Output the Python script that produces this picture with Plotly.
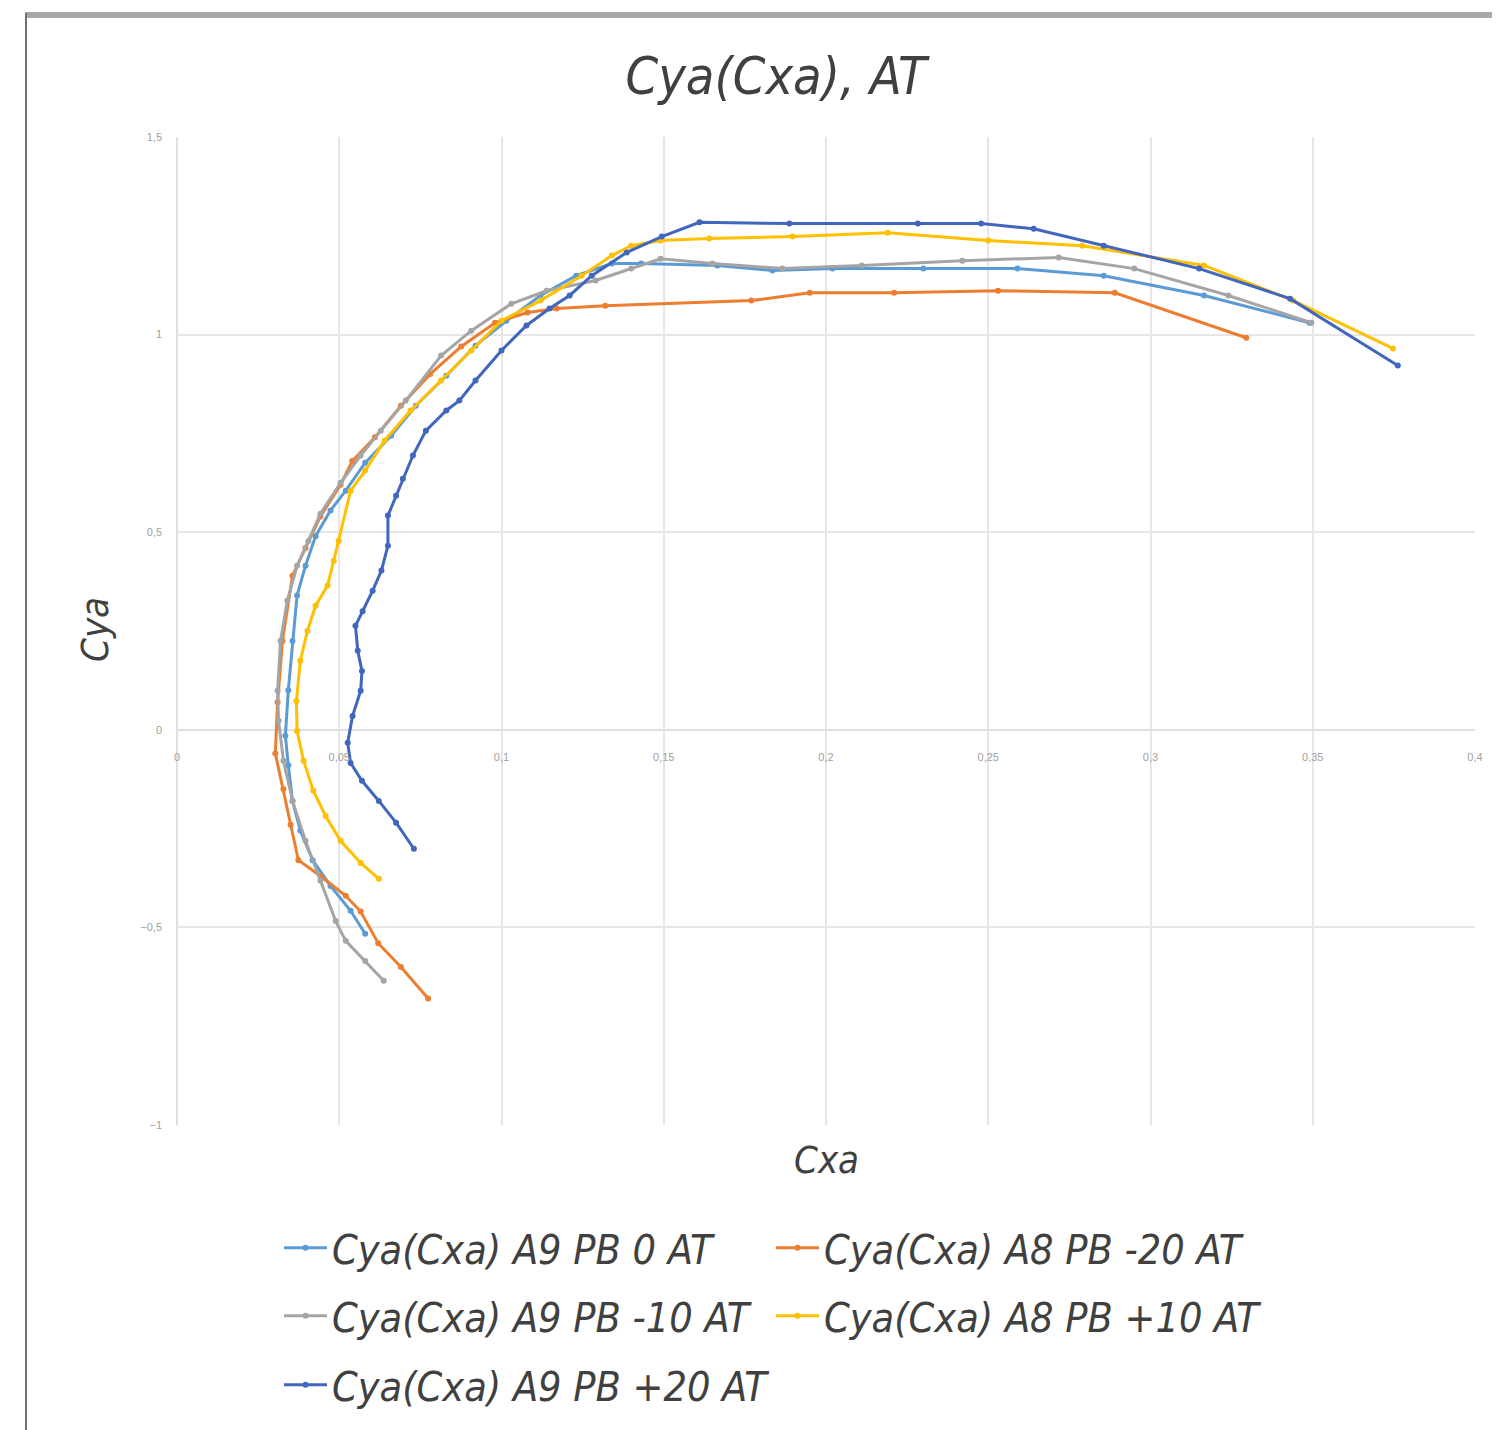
import plotly.graph_objects as go

# ---------------- data ----------------
series_names = [
    "Cya(Cxa) A9 PB 0 AT",
    "Cya(Cxa) A8 PB -20 AT",
    "Cya(Cxa) A9 PB -10 AT",
    "Cya(Cxa) A8 PB +10 AT",
    "Cya(Cxa) A9 PB +20 AT",
]

cxa_pb0 = [0.0580, 0.0535, 0.0473, 0.0418, 0.0380, 0.0356, 0.0343, 0.0334, 0.0343, 0.0356,
           0.0370, 0.0396, 0.0427, 0.0473, 0.0520, 0.0580, 0.0660, 0.0736, 0.0830, 0.0920,
           0.1015, 0.1120, 0.1230, 0.1340, 0.1430, 0.1665, 0.1835, 0.2020, 0.2300, 0.2590,
           0.2856, 0.3165, 0.3490]
cya_pb0 = [-0.516, -0.458, -0.395, -0.330, -0.255, -0.180, -0.090, -0.015, 0.100, 0.225,
           0.340, 0.415, 0.490, 0.555, 0.605, 0.676, 0.744, 0.820, 0.896, 0.972,
           1.035, 1.099, 1.149, 1.180, 1.180, 1.175, 1.162, 1.167, 1.167, 1.167,
           1.149, 1.099, 1.030]

cxa_pbm20 = [0.0774, 0.0690, 0.0620, 0.0566, 0.0520, 0.0442, 0.0374, 0.0350, 0.0328, 0.0303,
             0.0310, 0.0325, 0.0356, 0.0396, 0.0442, 0.0504, 0.0540, 0.0610, 0.0690, 0.0780,
             0.0876, 0.0980, 0.1080, 0.1170, 0.1320, 0.1770, 0.1950, 0.2210, 0.2530, 0.2890,
             0.3295]
cya_pbm20 = [-0.680, -0.600, -0.540, -0.460, -0.420, -0.370, -0.330, -0.240, -0.150, -0.060,
             0.070, 0.225, 0.390, 0.460, 0.540, 0.620, 0.680, 0.740, 0.820, 0.900,
             0.970, 1.030, 1.056, 1.066, 1.073, 1.086, 1.106, 1.106, 1.111, 1.106,
             0.992]

cxa_pbm10 = [0.0637, 0.0580, 0.0520, 0.0489, 0.0442, 0.0396, 0.0356, 0.0328, 0.0313, 0.0310,
             0.0319, 0.0340, 0.0370, 0.0405, 0.0442, 0.0504, 0.0566, 0.0628, 0.0705, 0.0814,
             0.0907, 0.1030, 0.1139, 0.1290, 0.1400, 0.1490, 0.1650, 0.1866, 0.2110, 0.2420,
             0.2717, 0.2950, 0.3240, 0.3496]
cya_pbm10 = [-0.635, -0.585, -0.534, -0.484, -0.382, -0.281, -0.180, -0.078, 0.023, 0.099,
             0.225, 0.327, 0.415, 0.478, 0.547, 0.625, 0.694, 0.757, 0.833, 0.947,
             1.010, 1.078, 1.111, 1.137, 1.167, 1.192, 1.180, 1.167, 1.175, 1.187,
             1.195, 1.167, 1.099, 1.030]

cxa_pbp10 = [0.0622, 0.0566, 0.0504, 0.0458, 0.0420, 0.0390, 0.0370, 0.0368, 0.0380, 0.0402,
             0.0427, 0.0464, 0.0483, 0.0498, 0.0535, 0.0580, 0.0640, 0.0720, 0.0814, 0.0907,
             0.1000, 0.1120, 0.1247, 0.1340, 0.1400, 0.1490, 0.1640, 0.1897, 0.2190, 0.2500,
             0.2790, 0.3165, 0.3440, 0.3747]
cya_pbp10 = [-0.377, -0.337, -0.281, -0.218, -0.154, -0.078, -0.003, 0.073, 0.175, 0.250,
             0.314, 0.365, 0.428, 0.478, 0.605, 0.656, 0.732, 0.808, 0.884, 0.960,
             1.035, 1.086, 1.149, 1.200, 1.225, 1.238, 1.243, 1.248, 1.258, 1.238,
             1.225, 1.175, 1.086, 0.965]

cxa_pbp20 = [0.0730, 0.0675, 0.0622, 0.0570, 0.0535, 0.0526, 0.0541, 0.0566, 0.0570, 0.0557,
             0.0550, 0.0572, 0.0603, 0.0630, 0.0650, 0.0650, 0.0675, 0.0696, 0.0727, 0.0767,
             0.0830, 0.0870, 0.0920, 0.1000, 0.1077, 0.1148, 0.1210, 0.1278, 0.1386, 0.1494,
             0.1610, 0.1887, 0.2283, 0.2478, 0.2640, 0.2856, 0.3150, 0.3430, 0.3762]
cya_pbp20 = [-0.301, -0.235, -0.180, -0.129, -0.084, -0.033, 0.035, 0.099, 0.149, 0.200,
             0.263, 0.300, 0.352, 0.403, 0.466, 0.542, 0.592, 0.635, 0.694, 0.757,
             0.808, 0.833, 0.884, 0.960, 1.023, 1.066, 1.099, 1.149, 1.208, 1.248,
             1.284, 1.281, 1.281, 1.281, 1.268, 1.225, 1.167, 1.091, 0.922]

x_values = [cxa_pb0, cxa_pbm20, cxa_pbm10, cxa_pbp10, cxa_pbp20]
y_values = [cya_pb0, cya_pbm20, cya_pbm10, cya_pbp10, cya_pbp20]

x_ticks = [0, 0.05, 0.1, 0.15, 0.2, 0.25, 0.3, 0.35, 0.4]
y_ticks = [-1, -0.5, 0, 0.5, 1, 1.5]

title_text = "Cya(Cxa), AT"
x_title = "Cxa"
y_title = "Cya"

# ---------------- styling ----------------
colors = ["#5B9BD5", "#ED7D31", "#A5A5A5", "#FFC000", "#4066BE"]
legend_ids = ["legend", "legend", "legend2", "legend2", "legend3"]
FONT = "DejaVu Sans Condensed, DejaVu Sans, sans-serif"

fig = go.Figure()
for name, xs, ys, col, lg in zip(series_names, x_values, y_values, colors, legend_ids):
    fig.add_trace(go.Scatter(
        x=xs, y=ys, mode="lines+markers", name=name,
        line=dict(color=col, width=3),
        marker=dict(color=col, size=6, symbol="circle"),
        legend=lg,
    ))

# the page body adds an 8px margin; targets below are in screenshot pixels
OFF = 8
W, H = 1500 - OFF, 1430 - OFF
PLOT_L, PLOT_R, PLOT_T, PLOT_B = 177, 1475, 137, 1125
L, R = PLOT_L - OFF, W - (PLOT_R - OFF)
T, B = PLOT_T - OFF, H - (PLOT_B - OFF)
pw, ph = W - L - R, H - T - B


def px2paper_x(px):
    return (px - PLOT_L) / pw


def px2paper_y(py):
    return (PLOT_B - py) / ph


legend_common = dict(
    orientation="h", xanchor="left", yanchor="middle",
    x=px2paper_x(279), entrywidth=434, entrywidthmode="pixels",
    font=dict(family=FONT, size=41, color="#404040", style="italic"),
    bgcolor="rgba(0,0,0,0)", itemwidth=43,
)

fig.update_layout(
    width=W, height=H,
    margin=dict(l=L, r=R, t=T, b=B),
    paper_bgcolor="white", plot_bgcolor="white",
    separators=", ",
    title=dict(text=title_text, x=(776 - OFF) / W, xref="container", xanchor="center",
               y=1 - (76 - OFF) / H, yref="container", yanchor="middle",
               font=dict(family=FONT, size=52, color="#404040", style="italic")),
    xaxis=dict(range=[0, 0.4], tickvals=x_ticks, tickformat=".2~f",
               showgrid=True, gridcolor="#E6E6E6", gridwidth=2,
               zeroline=True, zerolinecolor="#E0E0E0", zerolinewidth=2,
               showline=False, anchor="free", position=px2paper_y(729),
               ticklabelstandoff=20,
               tickfont=dict(family="Liberation Sans, sans-serif", size=11, color="#A0A0A0")),
    yaxis=dict(range=[-1, 1.5], tickvals=y_ticks, tickformat=".1~f",
               showgrid=True, gridcolor="#E6E6E6", gridwidth=2,
               zeroline=True, zerolinecolor="#E0E0E0", zerolinewidth=2,
               showline=False, ticklabelstandoff=14,
               tickfont=dict(family="Liberation Sans, sans-serif", size=11, color="#A0A0A0")),
    legend=dict(legend_common, y=px2paper_y(1248)),
    legend2=dict(legend_common, y=px2paper_y(1316)),
    legend3=dict(legend_common, y=px2paper_y(1385)),
    annotations=[
        dict(text=y_title, xref="paper", yref="paper", x=px2paper_x(95), y=px2paper_y(630),
             showarrow=False, textangle=-90, xanchor="center", yanchor="middle",
             font=dict(family=FONT, size=38, color="#404040", style="italic")),
        dict(text=x_title, xref="paper", yref="paper", x=px2paper_x(826), y=px2paper_y(1160),
             showarrow=False, xanchor="center", yanchor="middle",
             font=dict(family=FONT, size=38, color="#404040", style="italic")),
    ],
    shapes=[
        dict(type="line", xref="paper", yref="paper",
             x0=px2paper_x(25), x1=px2paper_x(1500), y0=px2paper_y(15), y1=px2paper_y(15),
             line=dict(color="#A8A8A8", width=6)),
        dict(type="line", xref="paper", yref="paper",
             x0=px2paper_x(26), x1=px2paper_x(26), y0=px2paper_y(13), y1=px2paper_y(1430),
             line=dict(color="#707070", width=2)),
    ],
)

fig.write_html("out.html")
